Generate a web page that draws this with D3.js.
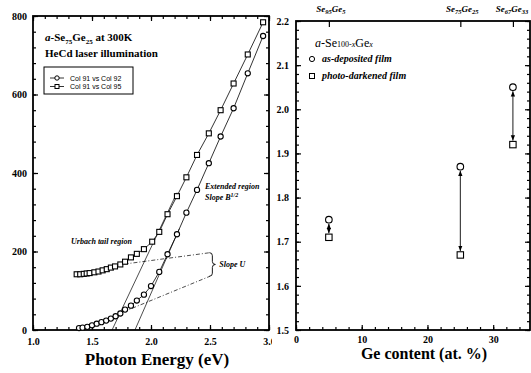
<!DOCTYPE html>
<html>
<head>
<meta charset="utf-8">
<script src="https://cdn.jsdelivr.net/npm/d3@7/dist/d3.min.js"></script>
<style>
  body { margin: 0; background: #fff; }
  svg { display: block; }
  text { font-family: "Liberation Serif", "Times New Roman", serif; fill: #000; }
  .tick text { font-size: 10px; font-weight: bold; }
  .domain { display: none; }
</style>
</head>
<body>
<svg id="chart" width="531" height="373"></svg>
<script>
// left panel: absorption data (photon energy in eV, y value)
const energyCircles = [1.39, 1.42, 1.46, 1.50, 1.54, 1.58, 1.62, 1.66, 1.70, 1.74, 1.78, 1.83, 1.88,
  1.94, 2.00, 2.07, 2.14, 2.22, 2.30, 2.39, 2.49, 2.59, 2.70, 2.82, 2.95];
const valueCircles = [5, 6, 8, 12, 16, 20, 24, 29, 35, 42, 52, 62, 75,
  90, 112, 148, 193, 244, 299, 357, 425, 493, 565, 654, 749];
const energySquares = [1.37, 1.40, 1.43, 1.455, 1.48, 1.52, 1.555, 1.59, 1.625, 1.66, 1.695, 1.74, 1.78, 1.83,
  1.88, 1.94, 2.01, 2.07, 2.14, 2.22, 2.30, 2.39, 2.49, 2.59, 2.70, 2.82, 2.95];
const valueSquares = [142, 142, 143, 144, 145, 147, 149, 152, 155, 159, 162, 167, 174, 185,
  194, 206, 225, 250, 295, 341, 389, 446, 501, 560, 628, 702, 784];

// fitted lines: [E0, v0, E1, v1]
const extendedFits = [[1.67, 0, 2.22, 350], [1.864, 0, 2.24, 258]];
const urbachFits = [[1.70, 165, 2.50, 197], [1.70, 38, 2.50, 137]];

const legendLeft = ["Col 91 vs Col 92", "Col 91 vs Col 95"];
const xTicksLeft = [1.0, 1.5, 2.0, 2.5, 3.0];
const yTicksLeft = [0, 200, 400, 600, 800];

// right panel: optical gap vs Ge content
const geContent = [5, 25, 33];
const gapAsDeposited = [1.75, 1.87, 2.05];
const gapDarkened = [1.71, 1.67, 1.92];
const compSe = ["95", "75", "67"];
const compGe = ["5", "25", "33"];
const xTicksRight = [0, 10, 20, 30];
const yTicksRight = [1.5, 1.6, 1.7, 1.8, 1.9, 2.0, 2.1, 2.2];

const svg = d3.select("#chart");

// ---------- left panel ----------
const xL = d3.scaleLinear().domain([1, 3]).range([33, 269]);
const yL = d3.scaleLinear().domain([0, 800]).range([330, 16]);
const left = svg.append("g");

function axisSet(g, scale, orient, at, majors, minors, size, labels, fmt, pad) {
  const mk = d3[orient];
  g.append("g").attr("transform", at)
    .call(mk(scale).tickValues(minors).tickSize(-size * 0.6).tickFormat(""));
  g.append("g").attr("transform", at)
    .call(mk(scale).tickValues(majors).tickSize(-size).tickPadding(pad)
      .tickFormat(labels ? d3.format(fmt) : ""));
}

const minorXL = d3.range(10, 31).map(d => d / 10);
const minorYL = d3.range(0, 801, 40);
axisSet(left, xL, "axisBottom", "translate(0,330)", xTicksLeft, minorXL, 5, true, ".1f", 8);
axisSet(left, xL, "axisTop", "translate(0,16)", xTicksLeft, minorXL, 5, false, "", 3);
axisSet(left, yL, "axisLeft", "translate(33,0)", yTicksLeft, minorYL, 5, true, "d", 6);
axisSet(left, yL, "axisRight", "translate(269,0)", yTicksLeft, minorYL, 5, false, "", 3);
left.selectAll(".tick line").attr("stroke-width", 1.2);

left.append("rect").attr("x", 33).attr("y", 16).attr("width", 236).attr("height", 314)
  .attr("fill", "none").attr("stroke", "#000").attr("stroke-width", 1.8);

const fitLine = d3.line().x(d => xL(d[0])).y(d => yL(d[1]));
extendedFits.forEach(f => {
  left.append("path").attr("d", fitLine([[f[0], f[1]], [f[2], f[3]]]))
    .attr("stroke", "#000").attr("stroke-width", 0.7).attr("fill", "none");
});
urbachFits.forEach(f => {
  left.append("path").attr("d", fitLine([[f[0], f[1]], [f[2], f[3]]]))
    .attr("stroke", "#000").attr("stroke-width", 0.7).attr("fill", "none")
    .attr("stroke-dasharray", "4,2,1,2");
});

const circles = energyCircles.map((e, i) => [e, valueCircles[i]]);
const squares = energySquares.map((e, i) => [e, valueSquares[i]]);
[circles, squares].forEach(s => {
  left.append("path").attr("d", fitLine(s)).attr("fill", "none")
    .attr("stroke", "#000").attr("stroke-width", 0.8);
});
left.selectAll("circle.c").data(circles).join("circle")
  .attr("cx", d => xL(d[0])).attr("cy", d => yL(d[1])).attr("r", 2.6)
  .attr("fill", "#fff").attr("stroke", "#000").attr("stroke-width", 1.1);
left.selectAll("rect.s").data(squares).join("rect")
  .attr("x", d => xL(d[0]) - 2.5).attr("y", d => yL(d[1]) - 2.5)
  .attr("width", 5).attr("height", 5)
  .attr("fill", "#fff").attr("stroke", "#000").attr("stroke-width", 1.1);

// brace and annotations
const bx = xL(2.52), bTop = yL(197), bBot = yL(137), bMid = (bTop + bBot) / 2;
left.append("path")
  .attr("d", `M${bx - 3},${bTop} Q${bx},${bTop} ${bx},${bTop + 3} L${bx},${bMid - 3} Q${bx},${bMid} ${bx + 3},${bMid}` +
    ` Q${bx},${bMid} ${bx},${bMid + 3} L${bx},${bBot - 3} Q${bx},${bBot} ${bx - 3},${bBot}`)
  .attr("fill", "none").attr("stroke", "#000").attr("stroke-width", 0.9);
const note = (x, y, t) => left.append("text").attr("x", x).attr("y", y)
  .attr("font-size", 8).attr("font-style", "italic").attr("font-weight", "bold").text(t);
note(bx + 7, bMid + 3, "Slope U");
note(71, 244, "Urbach tail region");
note(205, 189, "Extended region");
const sb = note(205, 200, "Slope B");
sb.append("tspan").attr("dy", -3).attr("font-size", 6).text("1/2");

// title
const t1 = left.append("text").attr("x", 45).attr("y", 41).attr("font-size", 11).attr("font-weight", "bold");
t1.append("tspan").attr("font-style", "italic").text("a");
t1.append("tspan").text("-Se");
t1.append("tspan").attr("font-size", 7).attr("dy", 3).text("75");
t1.append("tspan").attr("dy", -3).text("Ge");
t1.append("tspan").attr("font-size", 7).attr("dy", 3).text("25");
t1.append("tspan").attr("dy", -3).text(" at 300K");
left.append("text").attr("x", 45).attr("y", 57).attr("font-size", 11).attr("font-weight", "bold")
  .text("HeCd laser illumination");

// legend
left.append("rect").attr("x", 44).attr("y", 67).attr("width", 89).attr("height", 27)
  .attr("fill", "#fff").attr("stroke", "#000").attr("stroke-width", 1);
legendLeft.forEach((t, i) => {
  const ly = 78 + i * 8.5;
  left.append("line").attr("x1", 50).attr("x2", 64).attr("y1", ly).attr("y2", ly)
    .attr("stroke", "#000").attr("stroke-width", 0.8);
  if (i === 0) {
    left.append("circle").attr("cx", 57).attr("cy", ly).attr("r", 2.2)
      .attr("fill", "#fff").attr("stroke", "#000");
  } else {
    left.append("rect").attr("x", 55).attr("y", ly - 2).attr("width", 4).attr("height", 4)
      .attr("fill", "#fff").attr("stroke", "#000");
  }
  left.append("text").attr("x", 70).attr("y", ly + 2.5).attr("font-size", 7)
    .style("font-family", "'Liberation Sans', Arial, sans-serif").text(t);
});

left.append("text").attr("x", 157).attr("y", 365).attr("text-anchor", "middle")
  .attr("font-size", 17).attr("font-weight", "bold").text("Photon Energy (eV)");

// ---------- right panel ----------
const right = svg.append("g");
right.append("rect").attr("x", 272).attr("y", 0).attr("width", 259).attr("height", 373).attr("fill", "#fff");
const xR = d3.scaleLinear().domain([0, 35.6]).range([296, 530]);
const yR = d3.scaleLinear().domain([1.5, 2.2]).range([330, 21]);

const minorXR = d3.range(0, 36, 2);
const minorYR = d3.range(0, 36).map(d => 1.5 + d * 0.02);
axisSet(right, xR, "axisBottom", "translate(0,330)", xTicksRight, minorXR, 5, true, "d", 6);
axisSet(right, yR, "axisLeft", "translate(296,0)", yTicksRight, minorYR, 5, true, ".1f", 7);
axisSet(right, yR, "axisRight", "translate(530,0)", yTicksRight, minorYR, 5, false, "", 3);
right.append("g").attr("transform", "translate(0,21)")
  .call(d3.axisTop(xR).tickValues(geContent).tickSize(-6).tickFormat(""));
right.selectAll(".tick line").attr("stroke-width", 1.2);

right.append("rect").attr("x", 296).attr("y", 21).attr("width", 234).attr("height", 309)
  .attr("fill", "none").attr("stroke", "#000").attr("stroke-width", 1.8);

// composition labels above the top axis
geContent.forEach((g, i) => {
  const t = right.append("text").attr("x", xR(g) + (i === 2 ? -1 : 2)).attr("y", 12).attr("text-anchor", "middle")
    .attr("font-size", 9).attr("font-weight", "bold").attr("font-style", "italic");
  t.append("tspan").text("Se");
  t.append("tspan").attr("font-size", 6.5).attr("dy", 1.5).text(compSe[i]);
  t.append("tspan").attr("dy", -1.5).text("Ge");
  t.append("tspan").attr("font-size", 6.5).attr("dy", 1.5).text(compGe[i]);
});

svg.append("defs").append("marker").attr("id", "arr").attr("viewBox", "0 0 10 10")
  .attr("refX", 10).attr("refY", 5).attr("markerWidth", 6).attr("markerHeight", 6)
  .attr("orient", "auto-start-reverse")
  .append("path").attr("d", "M0,1 L10,5 L0,9 Z").attr("fill", "#000");

geContent.forEach((g, i) => {
  const y1 = yR(gapAsDeposited[i]) + 4, y2 = yR(gapDarkened[i]) - 4;
  right.append("line").attr("x1", xR(g)).attr("x2", xR(g)).attr("y1", y1).attr("y2", y2)
    .attr("stroke", "#000").attr("stroke-width", 0.9)
    .attr("marker-start", "url(#arr)").attr("marker-end", "url(#arr)");
});
right.selectAll("circle.g").data(geContent).join("circle")
  .attr("cx", d => xR(d)).attr("cy", (d, i) => yR(gapAsDeposited[i])).attr("r", 3.3)
  .attr("fill", "#fff").attr("stroke", "#000").attr("stroke-width", 1.1);
right.selectAll("rect.g").data(geContent).join("rect")
  .attr("x", d => xR(d) - 3.2).attr("y", (d, i) => yR(gapDarkened[i]) - 3.2)
  .attr("width", 6.4).attr("height", 6.4)
  .attr("fill", "#fff").attr("stroke", "#000").attr("stroke-width", 1.1);

// right legend
const lt = right.append("text").attr("x", 315).attr("y", 47).attr("font-size", 12);
lt.append("tspan").attr("font-style", "italic").text("a");
lt.append("tspan").text("-Se");
lt.append("tspan").attr("font-size", 8).text("100-");
lt.append("tspan").attr("font-size", 8).attr("font-style", "italic").text("x");
lt.append("tspan").text("Ge");
lt.append("tspan").attr("font-size", 8).attr("font-style", "italic").text("x");
right.append("circle").attr("cx", 312).attr("cy", 59).attr("r", 2.6)
  .attr("fill", "#fff").attr("stroke", "#000");
right.append("rect").attr("x", 309.5).attr("y", 73.5).attr("width", 5).attr("height", 5)
  .attr("fill", "#fff").attr("stroke", "#000");
right.append("text").attr("x", 322).attr("y", 62).attr("font-size", 10)
  .attr("font-style", "italic").attr("font-weight", "bold").text("as-deposited film");
right.append("text").attr("x", 322).attr("y", 79).attr("font-size", 10)
  .attr("font-style", "italic").attr("font-weight", "bold").text("photo-darkened film");

right.append("text").attr("x", 424).attr("y", 359).attr("text-anchor", "middle")
  .attr("font-size", 16).attr("font-weight", "bold").text("Ge content (at. %)");
</script>
</body>
</html>
